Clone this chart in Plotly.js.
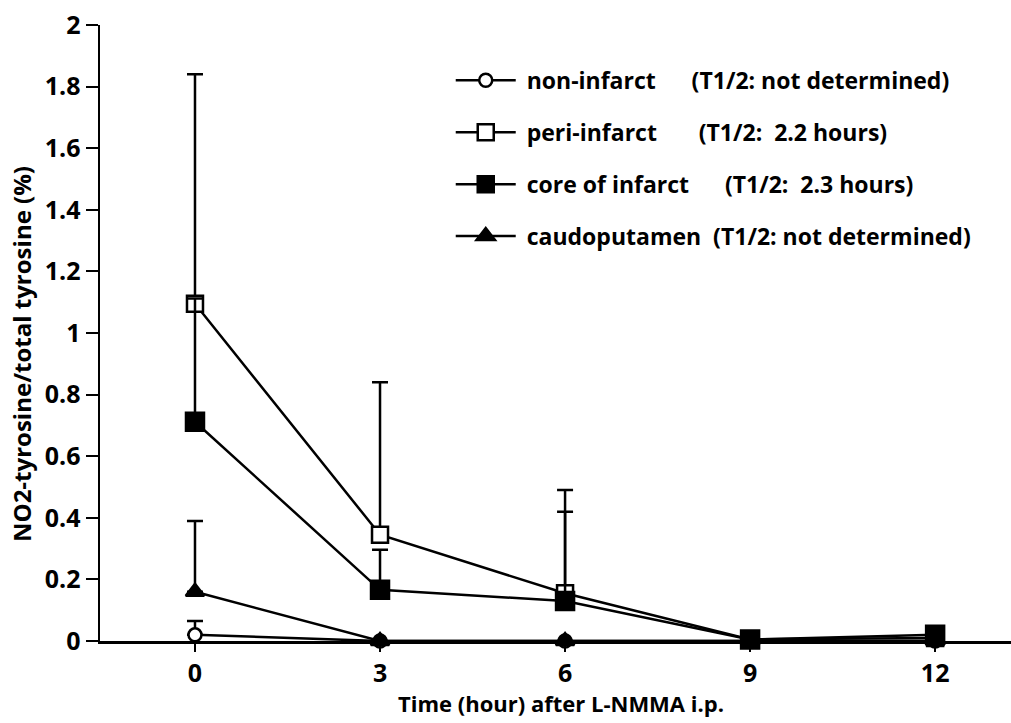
<!DOCTYPE html>
<html>
<head>
<meta charset="utf-8">
<script src="https://cdn.plot.ly/plotly-3.0.1.min.js"></script>
<style>html,body{margin:0;padding:0;background:#fff;}#chart{width:1011px;height:723px;}</style>
</head>
<body>
<div id="chart"></div>
<script>
// Data
const timeHours = [0, 3, 6, 9, 12];
const NB = "\u00A0";
const seriesNames = [
  NB + "non-infarct" + NB.repeat(6) + "(T1/2: not determined)",
  NB + "peri-infarct" + NB.repeat(7) + "(T1/2:" + NB + NB + "2.2 hours)",
  NB + "core of infarct" + NB.repeat(6) + "(T1/2:" + NB + NB + "2.3 hours)",
  NB + "caudoputamen" + NB + NB + "(T1/2: not determined)"
];
const nonInfarct = [0.02, 0.0, 0.0, 0.0, 0.0];
const nonInfarctErr = [0.045, 0, 0, 0, 0];
const periInfarct = [1.095, 0.345, 0.155, 0.005, 0.01];
const periInfarctErr = [0.745, 0.495, 0.335, 0, 0];
const coreInfarct = [0.712, 0.166, 0.13, 0.005, 0.02];
const coreInfarctErr = [0.40, 0.13, 0.29, 0, 0];
const caudoputamen = [0.16, 0.0, 0.0, 0.0, 0.0];
const caudoputamenErr = [0.23, 0, 0, 0, 0];
const xTicks = [0, 3, 6, 9, 12];
const yTicks = [0, 0.2, 0.4, 0.6, 0.8, 1, 1.2, 1.4, 1.6, 1.8, 2];

const FONT = "Open Sans, Liberation Sans, sans-serif";
function errBar(arr) {
  return {type: "data", symmetric: false, array: arr, arrayminus: arr.map(() => 0),
          color: "#000", thickness: 2.5, width: 8};
}
function mk(name, y, err, symbol, fill, size, group) {
  return {
    x: timeHours, y: y, name: name, type: "scatter", mode: "lines+markers",
    legendgroup: group, cliponaxis: false,
    line: {color: "#000", width: 2.5},
    marker: {symbol: symbol, size: size, color: fill, line: {color: "#000", width: 2.5}},
    error_y: errBar(err)
  };
}
const traces = [
  mk(seriesNames[0], nonInfarct, nonInfarctErr, "circle", "#fff", 13, "a"),
  mk(seriesNames[1], periInfarct, periInfarctErr, "square", "#fff", 16, "b"),
  mk(seriesNames[2], coreInfarct, coreInfarctErr, "square", "#000", 18, "c"),
  mk(seriesNames[3], caudoputamen, caudoputamenErr, "triangle-up", "#000", 16, "d")
];
const layout = {
  width: 1011, height: 723,
  paper_bgcolor: "#fff", plot_bgcolor: "#fff",
  margin: {l: 100, r: 0, t: 25, b: 82},
  font: {family: FONT, size: 23, color: "#000", weight: 700},
  showlegend: true,
  legend: {x: 0.385, y: 0.945, xanchor: "left", yanchor: "top", bgcolor: "rgba(0,0,0,0)",
           tracegroupgap: 19, itemwidth: 60, font: {family: FONT, size: 23, color: "#000", weight: 700}},
  xaxis: {range: [-1.54, 13.23], tickvals: xTicks, ticktext: xTicks.map(String),
          showline: true, linecolor: "#000", linewidth: 2.5, ticks: "outside", ticklen: 8,
          tickwidth: 2, tickcolor: "#000", showgrid: false, zeroline: false,
          tickfont: {family: FONT, size: 25, color: "#000", weight: 700}},
  yaxis: {range: [0, 2], tickvals: yTicks, ticktext: yTicks.map(String),
          showline: true, linecolor: "#000", linewidth: 2.5, ticks: "outside", ticklen: 12,
          tickwidth: 2, tickcolor: "#000", showgrid: false, zeroline: false,
          tickfont: {family: FONT, size: 25, color: "#000", weight: 700}},
  annotations: [
    {text: "NO2-tyrosine/total tyrosine (%)", xref: "paper", yref: "paper",
     x: -0.0856, y: 0.466, xanchor: "center", yanchor: "middle", textangle: -90, showarrow: false,
     font: {family: FONT, size: 24, color: "#000", weight: 700}},
    {text: "Time (hour) after L-NMMA i.p.", xref: "paper", yref: "paper",
     x: 0.5055, y: -0.1006, xanchor: "center", yanchor: "middle", showarrow: false,
     font: {family: FONT, size: 22, color: "#000", weight: 700}}
  ]
};
Plotly.newPlot("chart", traces, layout, {displayModeBar: false, staticPlot: true});
</script>
</body>
</html>
